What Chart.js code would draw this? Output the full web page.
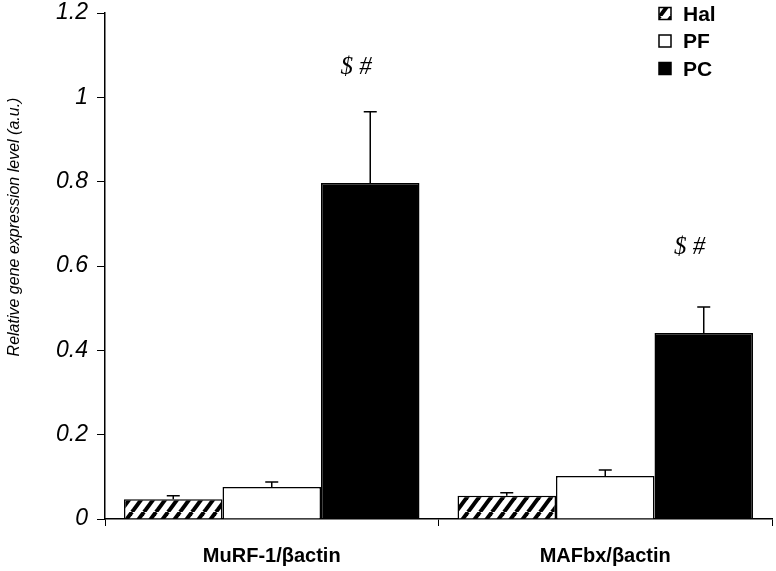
<!DOCTYPE html>
<html>
<head>
<meta charset="utf-8">
<script src="https://cdn.jsdelivr.net/npm/chart.js@4"></script>
<style>
  html, body { margin: 0; padding: 0; background: #fff; }
  #wrap { width: 776px; height: 571px; position: relative; }
</style>
</head>
<body>
<div id="wrap"><canvas id="chart"></canvas></div>
<script>
// --- data ---
const categories = ['MuRF-1/βactin', 'MAFbx/βactin'];
const groups = ['Hal', 'PF', 'PC'];
const halValues = [0.047, 0.055];
const pfValues  = [0.076, 0.102];
const pcValues  = [0.797, 0.441];
const halErrors = [0.008, 0.007];
const pfErrors  = [0.012, 0.014];
const pcErrors  = [0.169, 0.062];
const yTicks = [0, 0.2, 0.4, 0.6, 0.8, 1, 1.2];
const marks  = ['$ #', '$ #'];
const markValues = [1.07, 0.645];
const yTitle = 'Relative gene expression level (a.u.)';

const FONT = "'Liberation Sans', Arial, sans-serif";
const SERIF = "'Liberation Serif', 'Times New Roman', serif";

// --- helpers ---
const makeHatch = () => {
  const w = 12, h = 16;
  const c = document.createElement('canvas');
  c.width = w; c.height = h;
  const g = c.getContext('2d');
  g.fillStyle = '#fff';
  g.fillRect(0, 0, w, h);
  g.strokeStyle = '#000';
  g.lineWidth = 4;
  [-w, 0, w].forEach(dx => {
    g.beginPath();
    g.moveTo(dx, h);
    g.lineTo(dx + w, 0);
    g.stroke();
  });
  return g.createPattern(c, 'repeat');
};

const hatch = makeHatch();
const fills = [hatch, '#fff', '#000'];
const errors = [halErrors, pfErrors, pcErrors];

// error bars on top of each bar
const errorBars = {
  id: 'errorBars',
  afterDatasetsDraw(chart) {
    const { ctx, scales: { y } } = chart;
    ctx.save();
    ctx.strokeStyle = '#000';
    ctx.lineWidth = 1.5;
    chart.data.datasets.forEach((ds, i) => {
      chart.getDatasetMeta(i).data.forEach((bar, j) => {
        const top = y.getPixelForValue(ds.data[j] + errors[i][j]);
        ctx.beginPath();
        ctx.moveTo(bar.x, bar.y);
        ctx.lineTo(bar.x, top);
        ctx.moveTo(bar.x - 6.5, top);
        ctx.lineTo(bar.x + 6.5, top);
        ctx.stroke();
      });
    });
    ctx.restore();
  }
};

// significance marks, y title and legend
const extras = {
  id: 'extras',
  afterDraw(chart) {
    const { ctx, scales: { y } } = chart;
    const pcMeta = chart.getDatasetMeta(2);
    ctx.save();
    ctx.fillStyle = '#000';
    ctx.textAlign = 'center';
    ctx.textBaseline = 'middle';
    ctx.font = `italic 25px ${SERIF}`;
    marks.forEach((m, j) => {
      ctx.fillText(m, pcMeta.data[j].x - 14, y.getPixelForValue(markValues[j]));
    });

    ctx.save();
    ctx.translate(15, 227);
    ctx.rotate(-Math.PI / 2);
    ctx.font = `italic 16px ${FONT}`;
    ctx.fillText(yTitle, 0, 0);
    ctx.restore();

    ctx.textAlign = 'left';
    ctx.font = `bold 21px ${FONT}`;
    groups.forEach((g, i) => {
      const cy = 14 + i * 27.5;
      ctx.fillStyle = fills[i];
      ctx.fillRect(659, cy - 6.5, 12, 12);
      ctx.strokeStyle = '#000';
      ctx.lineWidth = 1.5;
      ctx.strokeRect(659, cy - 6.5, 12, 12);
      ctx.fillStyle = '#000';
      ctx.fillText(g, 683, cy + 1);
    });
    ctx.restore();
  }
};

// --- chart ---
new Chart(document.getElementById('chart'), {
  type: 'bar',
  data: {
    labels: categories,
    datasets: [halValues, pfValues, pcValues].map((data, i) => ({
      label: groups[i],
      data,
      backgroundColor: fills[i],
      borderColor: '#000',
      borderWidth: 1.5,
      categoryPercentage: 0.886,
      barPercentage: 1
    }))
  },
  options: {
    responsive: true,
    maintainAspectRatio: false,
    animation: false,
    layout: { padding: { top: 13, right: 4, left: 0, bottom: 0 } },
    plugins: { legend: { display: false }, tooltip: { enabled: false } },
    scales: {
      x: {
        afterFit: s => { s.height = 52; s.paddingLeft = 0; s.paddingRight = 0; },
        border: { display: true, color: '#000', width: 1.5 },
        grid: { offset: true, drawOnChartArea: false, color: '#000', tickLength: 7, lineWidth: 1 },
        ticks: { color: '#000', font: { family: FONT, size: 20, weight: 'bold' }, padding: 18 }
      },
      y: {
        min: 0,
        max: 1.2,
        afterFit: s => { s.width = 105; s.paddingTop = 0; s.paddingBottom = 0; },
        afterBuildTicks: s => { s.ticks = yTicks.map(v => ({ value: v })); },
        border: { display: true, color: '#000', width: 1.5 },
        grid: { drawOnChartArea: false, color: '#000', tickLength: 8, lineWidth: 1 },
        ticks: {
          color: '#000',
          padding: 9,
          font: { family: FONT, size: 23, style: 'italic' },
          callback: v => String(v)
        }
      }
    }
  },
  plugins: [errorBars, extras]
});
</script>
</body>
</html>
